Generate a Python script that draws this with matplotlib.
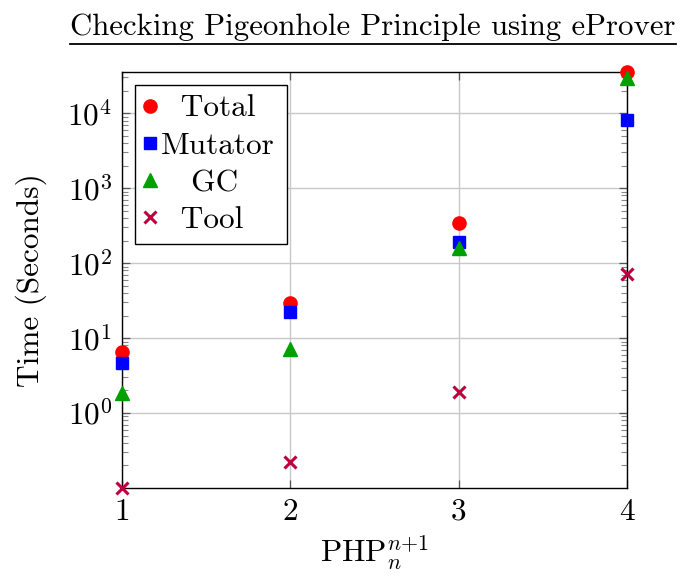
import numpy as np
import matplotlib
matplotlib.use("Agg")
import matplotlib.pyplot as plt
from matplotlib.ticker import LogLocator, NullFormatter
from matplotlib.lines import Line2D

# PHP_n^{n+1} instances
n_values = [1, 2, 3, 4]

# timings in seconds
total_time = [6.5, 29, 340, 35500]
mutator_time = [4.6, 22, 190, 8100]
gc_time = [1.85, 7.1, 158, 29300]
tool_time = [0.1, 0.22, 1.9, 71]

series_names = ["Total", "Mutator", "GC", "Tool"]

plt.rcParams["font.family"] = "serif"
plt.rcParams["font.serif"] = ["cmr10", "DejaVu Serif"]
plt.rcParams["mathtext.fontset"] = "cm"
plt.rcParams["axes.formatter.use_mathtext"] = True
plt.rcParams["axes.unicode_minus"] = False

FS = 22.5

fig = plt.figure(figsize=(6.8, 5.76), dpi=100)
ax = fig.add_axes([122 / 680, 1 - 488 / 576, 505 / 680, 416 / 576])

styles = [
    dict(marker="o", color="#ff0000", markersize=9.5),
    dict(marker="s", color="#0000ff", markersize=9),
    dict(marker="^", color="#00a000", markersize=9.5),
    dict(marker="x", color="#bf0040", markersize=8, markeredgewidth=2.2),
]
data = [total_time, mutator_time, gc_time, tool_time]

for name, vals, st in zip(series_names, data, styles):
    ax.plot(n_values, vals, linestyle="none", label=name, clip_on=False,
            zorder=3, **st)

ax.set_yscale("log")
ax.set_xlim(1, 4)
ax.set_ylim(0.1, max(total_time))
ax.set_xticks(n_values)
ax.set_xticklabels([str(v) for v in n_values])
ax.set_yticks([1, 10, 100, 1000, 10000])
ax.set_yticklabels([r"$10^{%d}$" % k for k in range(5)])
ax.yaxis.set_minor_locator(LogLocator(base=10, subs=np.arange(2, 10), numticks=20))
ax.yaxis.set_minor_formatter(NullFormatter())

ax.grid(True, which="major", color="#c8c8c8", linewidth=1.0)
ax.set_axisbelow(True)
ax.tick_params(which="both", direction="in", top=True, right=True,
               labelsize=FS, pad=7)
ax.tick_params(which="major", length=6, width=0.9, color="#555555")
ax.tick_params(which="minor", length=4, width=0.8, color="#888888")
for sp in ax.spines.values():
    sp.set_linewidth(1.0)

ax.set_xlabel(r"PHP$_{n}^{n{+}1}$", fontsize=FS, labelpad=6)
ax.set_ylabel("Time (Seconds)", fontsize=FS, labelpad=15)

title = fig.text(373 / 680, 1 - 35 / 576,
                 "Checking Pigeonhole Principle using eProver",
                 fontsize=22.2, ha="center", va="baseline")

leg = ax.legend(loc="upper left", fontsize=FS, frameon=True, fancybox=False,
                edgecolor="black", framealpha=1, borderaxespad=0.4,
                handletextpad=0.19, handlelength=0.32, labelspacing=0.3,
                borderpad=0.32, numpoints=1)
leg.get_frame().set_linewidth(1.0)

# centre the legend labels like pgfplots does
fig.canvas.draw()
r = fig.canvas.get_renderer()
texts = leg.get_texts()
widths = [t.get_window_extent(r).width for t in texts]
sp_t = plt.text(0, 0, "a a", fontsize=FS)
sp_w = sp_t.get_window_extent(r).width
sp_t.set_text("aa")
sp_w -= sp_t.get_window_extent(r).width
sp_t.remove()
wmax = max(widths)
for t, w, name in zip(texts, widths, series_names):
    n = int(round((wmax - w) / 2 / sp_w))
    t.set_text(" " * n + name + " " * n)

# underline under the title
fig.canvas.draw()
bb = title.get_window_extent(r)
y_line = bb.y0 - 3
fig.add_artist(Line2D([bb.x0 / fig.bbox.width, bb.x1 / fig.bbox.width],
                      [y_line / fig.bbox.height] * 2, color="black",
                      linewidth=1.3, transform=fig.transFigure))

fig.savefig("out.png", dpi=100)
